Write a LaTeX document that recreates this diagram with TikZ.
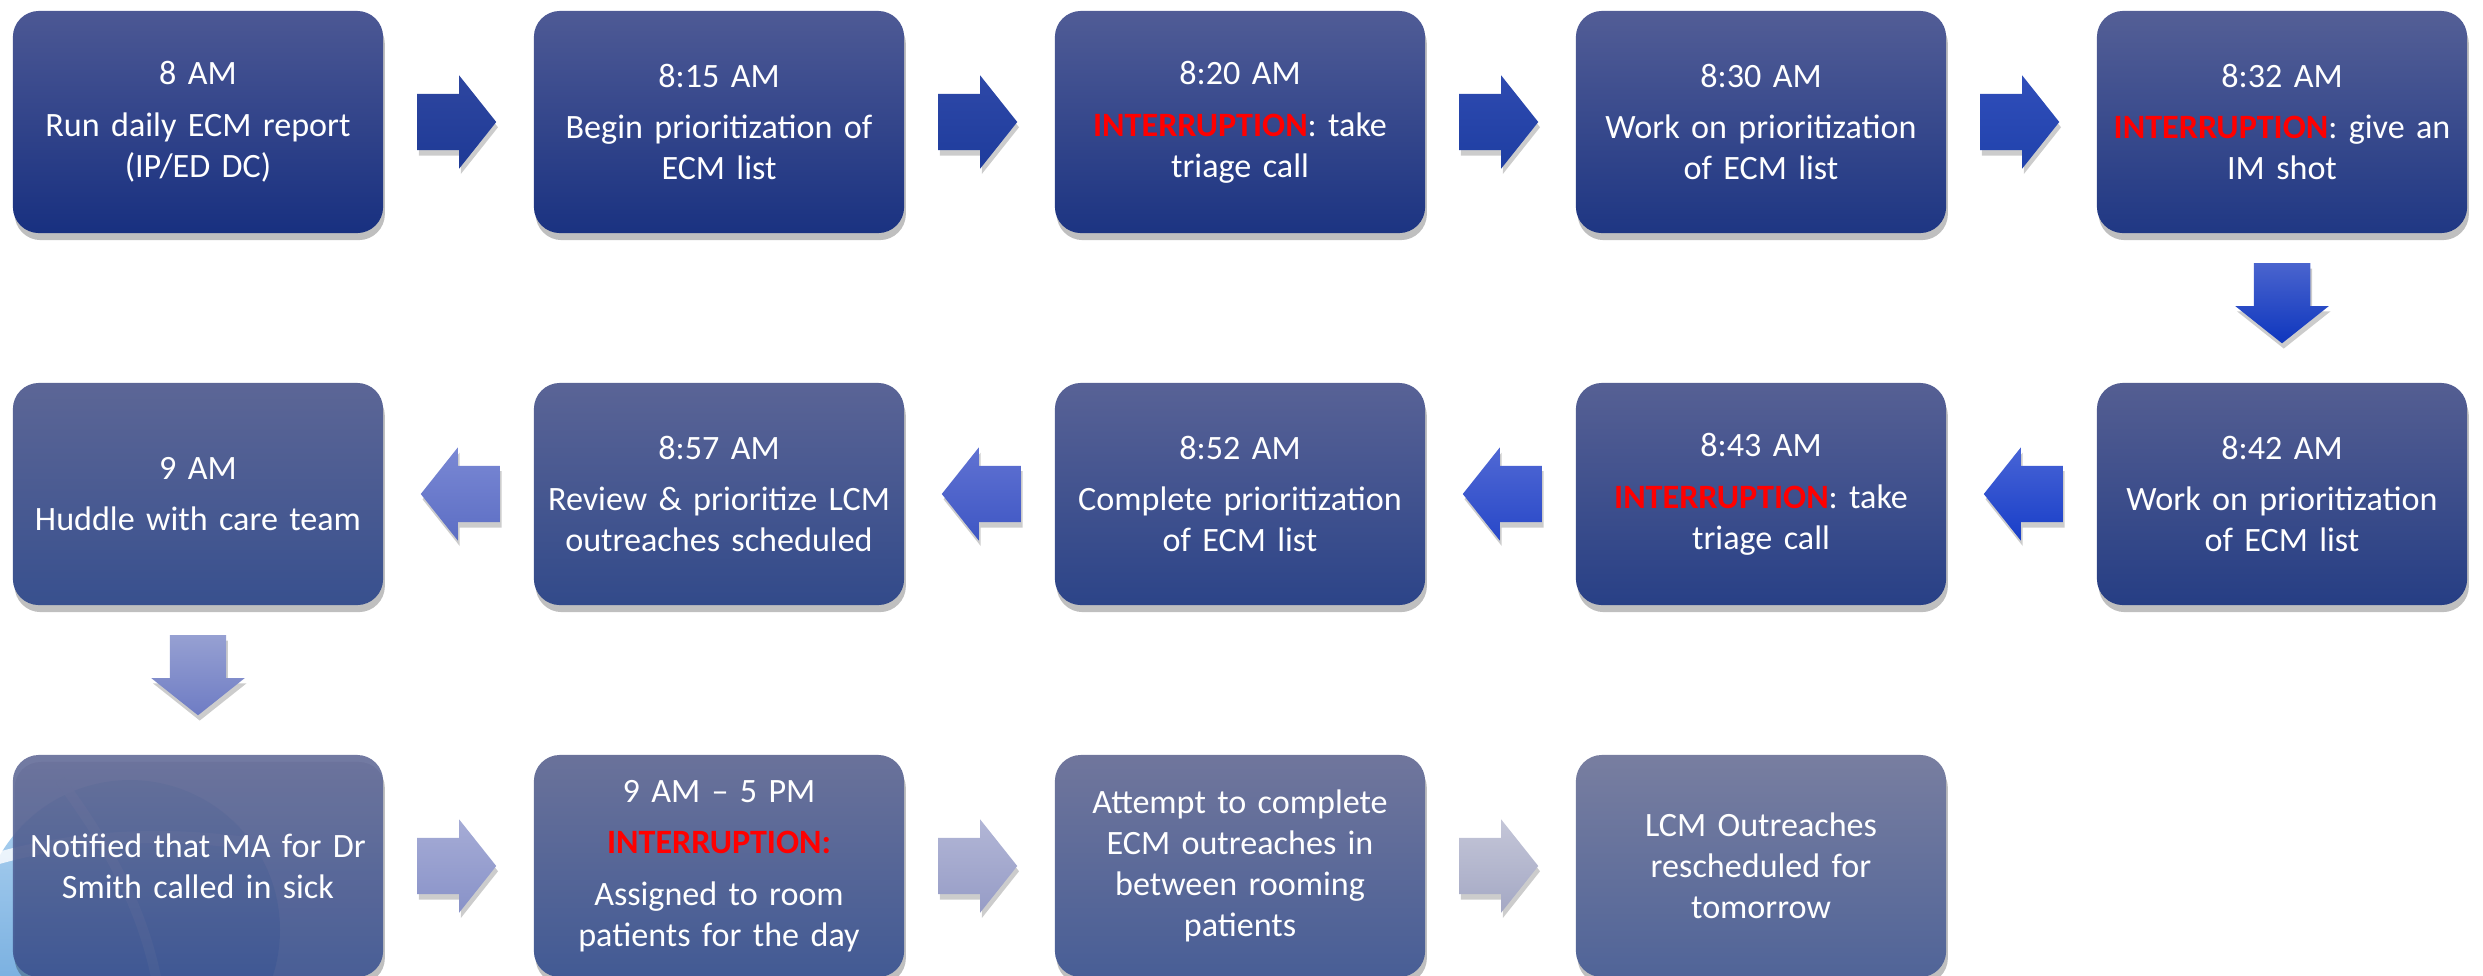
\documentclass[tikz,border=0pt]{standalone}
\usepackage{fontspec}
\setmainfont{Carlito}
\usetikzlibrary{shapes.arrows,shadows,calc}
\newcommand{\intr}{\textcolor{red}{\textbf{INTERRUPTION}}}
\definecolor{globeA}{HTML}{B4D6F2}
\definecolor{globeB}{HTML}{5E9ED8}
\begin{document}
\begin{tikzpicture}[x=0.01cm,y=-0.01cm,
  box/.style={rounded corners=0.26cm, minimum width=3.7cm, minimum height=2.22cm,
    text width=3.6cm, align=center, text=white, inner sep=0pt,
    font=\fontsize{9.7}{11.7}\selectfont,
    drop shadow={shadow xshift=0.5pt, shadow yshift=-2pt, opacity=0.25, fill=black}},
  arrowbase/.style={single arrow, draw=none, minimum height=0.79cm, minimum width=0.92cm,
    single arrow head extend=0.185cm, single arrow tip angle=103,
    drop shadow={shadow xshift=0.5pt, shadow yshift=-1.5pt, opacity=0.2, fill=black}},
  barrow/.style={arrowbase, inner xsep=0pt, inner ysep=0.275cm, xshift=-0.13cm},
  larrow/.style={arrowbase, inner xsep=0pt, inner ysep=0.275cm, shape border rotate=180, xshift=0.13cm},
  darrow/.style={arrowbase, inner ysep=0pt, inner xsep=0.275cm, shape border rotate=270, minimum height=0.80cm, yshift=0.13cm},
]
\useasboundingbox (0,0) rectangle (2483,975);
\clip (0,0) rectangle (2483,975);

% background globe fragment (bottom left)
\begin{scope}
  \shade[top color=globeA, bottom color=globeB] (130,930) circle (150);
  \draw[white, line width=0.12cm, opacity=0.8] (-40,870) .. controls (60,835) and (160,830) .. (260,845);
  \draw[white, line width=0.1cm, opacity=0.8] (60,780) .. controls (120,860) and (150,930) .. (160,1000);
\end{scope}

% row 1
\node[box, top color={rgb,255:red,76;green,88;blue,148}, middle color={rgb,255:red,30;green,54;blue,138}, bottom color={rgb,255:red,24;green,48;blue,128}] (b1) at (198,122)
  {8 AM\\[3pt]Run daily ECM report\\(IP/ED DC)};
\node[box, top color={rgb,255:red,78;green,90;blue,149}, middle color={rgb,255:red,32;green,56;blue,138}, bottom color={rgb,255:red,26;green,50;blue,129}] (b2) at (719,122)
  {8:15 AM\\[3pt]Begin prioritization of\\ECM list};
\node[box, top color={rgb,255:red,80;green,92;blue,150}, middle color={rgb,255:red,34;green,58;blue,138}, bottom color={rgb,255:red,28;green,52;blue,130}] (b3) at (1240,122)
  {8:20 AM\\[3pt]\intr: take\\triage call};
\node[box, top color={rgb,255:red,82;green,93;blue,150}, middle color={rgb,255:red,36;green,60;blue,138}, bottom color={rgb,255:red,30;green,54;blue,131}] (b4) at (1761,122)
  {8:30 AM\\[3pt]Work on prioritization\\of ECM list};
\node[box, top color={rgb,255:red,84;green,95;blue,150}, middle color={rgb,255:red,38;green,62;blue,138}, bottom color={rgb,255:red,32;green,56;blue,132}] (b5) at (2282,122)
  {8:32 AM\\[3pt]\intr: give an\\IM shot};

% row 2
\node[box, top color={rgb,255:red,84;green,94;blue,146}, middle color={rgb,255:red,44;green,66;blue,138}, bottom color={rgb,255:red,38;green,62;blue,132}] (c5) at (2282,494)
  {8:42 AM\\[3pt]Work on prioritization\\of ECM list};
\node[box, top color={rgb,255:red,86;green,96;blue,148}, middle color={rgb,255:red,46;green,68;blue,138}, bottom color={rgb,255:red,40;green,64;blue,134}] (c4) at (1761,494)
  {8:43 AM\\[3pt]\intr: take\\triage call};
\node[box, top color={rgb,255:red,88;green,98;blue,150}, middle color={rgb,255:red,50;green,72;blue,140}, bottom color={rgb,255:red,44;green,68;blue,136}] (c3) at (1240,494)
  {8:52 AM\\[3pt]Complete prioritization\\of ECM list};
\node[box, top color={rgb,255:red,90;green,100;blue,150}, middle color={rgb,255:red,56;green,78;blue,142}, bottom color={rgb,255:red,50;green,74;blue,138}] (c2) at (719,494)
  {8:57 AM\\[3pt]Review \& prioritize LCM\\outreaches scheduled};
\node[box, top color={rgb,255:red,92;green,102;blue,150}, middle color={rgb,255:red,62;green,84;blue,144}, bottom color={rgb,255:red,56;green,80;blue,142}] (c1) at (198,494)
  {9 AM\\[3pt]Huddle with care team};

% row 3
\node[box, fill opacity=0.9, text opacity=1, top color={rgb,255:red,100;green,108;blue,152}, middle color={rgb,255:red,66;green,88;blue,148}, bottom color={rgb,255:red,60;green,84;blue,146}] (d1) at (198,866)
  {Notified that MA for Dr\\Smith called in sick};
\node[box, top color={rgb,255:red,106;green,114;blue,154}, middle color={rgb,255:red,72;green,94;blue,150}, bottom color={rgb,255:red,66;green,90;blue,148}] (d2) at (719,866)
  {9 AM -- 5 PM\\[3pt]\textcolor{red}{\textbf{INTERRUPTION:}}\\[3pt]Assigned to room\\patients for the day};
\node[box, top color={rgb,255:red,112;green,118;blue,156}, middle color={rgb,255:red,78;green,98;blue,152}, bottom color={rgb,255:red,72;green,94;blue,150}] (d3) at (1240,866)
  {Attempt to complete\\ECM outreaches in\\between rooming\\patients};
\node[box, top color={rgb,255:red,120;green,126;blue,160}, middle color={rgb,255:red,86;green,104;blue,154}, bottom color={rgb,255:red,80;green,100;blue,152}] (d4) at (1761,866)
  {LCM Outreaches\\rescheduled for\\tomorrow};

% arrows row 1
\node[barrow, top color={rgb,255:red,46;green,70;blue,160}, middle color={rgb,255:red,10;green,40;blue,135}, bottom color={rgb,255:red,30;green,58;blue,150}] (a12) at ($(b1.east)!0.5!(b2.west)$) {};
\node[barrow, top color={rgb,255:red,46;green,72;blue,168}, middle color={rgb,255:red,10;green,42;blue,142}, bottom color={rgb,255:red,30;green,60;blue,156}] (a23) at ($(b2.east)!0.5!(b3.west)$) {};
\node[barrow, top color={rgb,255:red,46;green,74;blue,176}, middle color={rgb,255:red,10;green,44;blue,150}, bottom color={rgb,255:red,30;green,62;blue,162}] (a34) at ($(b3.east)!0.5!(b4.west)$) {};
\node[barrow, top color={rgb,255:red,48;green,78;blue,186}, middle color={rgb,255:red,12;green,48;blue,162}, bottom color={rgb,255:red,32;green,66;blue,172}] (a45) at ($(b4.east)!0.5!(b5.west)$) {};
% down right
\node[darrow, top color={rgb,255:red,74;green,100;blue,206}, bottom color={rgb,255:red,14;green,54;blue,190}] (a5d) at ($(b5.south)!0.48!(c5.north)$) {};
% row 2 left arrows
\node[larrow, top color={rgb,255:red,72;green,100;blue,214}, bottom color={rgb,255:red,24;green,62;blue,200}] (l54) at ($(c5.west)!0.5!(c4.east)$) {};
\node[larrow, top color={rgb,255:red,80;green,104;blue,212}, bottom color={rgb,255:red,40;green,72;blue,200}] (l43) at ($(c4.west)!0.5!(c3.east)$) {};
\node[larrow, top color={rgb,255:red,96;green,114;blue,210}, bottom color={rgb,255:red,62;green,86;blue,196}] (l32) at ($(c3.west)!0.5!(c2.east)$) {};
\node[larrow, top color={rgb,255:red,122;green,136;blue,212}, bottom color={rgb,255:red,92;green,110;blue,196}] (l21) at ($(c2.west)!0.5!(c1.east)$) {};
% down left
\node[darrow, top color={rgb,255:red,150;green,160;blue,210}, bottom color={rgb,255:red,110;green,124;blue,196}] (a1d) at ($(c1.south)!0.48!(d1.north)$) {};
% row 3 right arrows
\node[barrow, top color={rgb,255:red,166;green,172;blue,214}, bottom color={rgb,255:red,136;green,146;blue,200}] (r12) at ($(d1.east)!0.5!(d2.west)$) {};
\node[barrow, top color={rgb,255:red,178;green,182;blue,214}, bottom color={rgb,255:red,150;green,156;blue,198}] (r23) at ($(d2.east)!0.5!(d3.west)$) {};
\node[barrow, top color={rgb,255:red,196;green,198;blue,216}, bottom color={rgb,255:red,164;green,168;blue,196}] (r34) at ($(d3.east)!0.5!(d4.west)$) {};
\end{tikzpicture}
\end{document}
